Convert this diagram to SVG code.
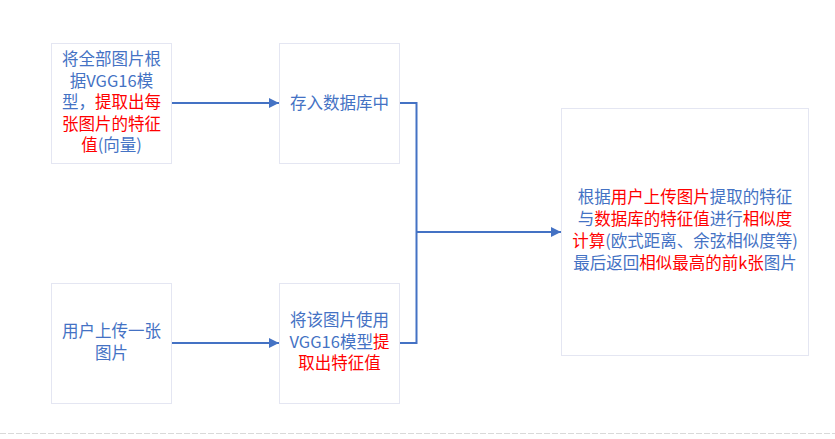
<svg xmlns="http://www.w3.org/2000/svg" width="835" height="439" viewBox="0 0 835 439">
  <style>
    .box { fill: #ffffff; stroke: #e4e6f2; stroke-width: 1; }
    .t { font-family: "Microsoft YaHei", "Noto Sans CJK SC", "Liberation Sans", sans-serif; font-size: 16.5px; fill: #4472c4; text-anchor: middle; }
    .r { fill: #ff0000; }
    .wire { fill: none; stroke: #4472c4; stroke-width: 2; }
  </style>
  <defs>
    <marker id="arrow" viewBox="0 0 10 10" refX="10" refY="5" markerWidth="5.5" markerHeight="5" orient="auto" markerUnits="strokeWidth">
      <path d="M0,0 L10,5 L0,10 z" fill="#4472c4"/>
    </marker>
  </defs>

  <rect width="835" height="439" fill="#ffffff"/>

  <!-- page break -->
  <line x1="0" y1="433.5" x2="835" y2="433.5" stroke="#d9d9d9" stroke-width="1" stroke-dasharray="6,2"/>

  <g id="connectors">
    <path class="wire" d="M172,103 H279" marker-end="url(#arrow)"/>
    <path class="wire" d="M172,343 H279" marker-end="url(#arrow)"/>
    <path class="wire" d="M399,103 H416.5 V343 H399"/>
    <path class="wire" d="M416.5,232 H561" marker-end="url(#arrow)"/>
  </g>

  <g id="extract-all">
    <rect class="box" x="51.5" y="43.5" width="120" height="120"/>
    <text class="t" x="111.5" y="65">将全部图片根</text>
    <text class="t" x="111.5" y="87">据VGG16模</text>
    <text class="t" x="111.5" y="108">型，<tspan class="r">提取出每</tspan></text>
    <text class="t" x="111.5" y="130"><tspan class="r">张图片的特征</tspan></text>
    <text class="t" x="111.5" y="151"><tspan class="r">值</tspan>(向量)</text>
  </g>

  <g id="store-db">
    <rect class="box" x="279.5" y="43.5" width="120" height="120"/>
    <text class="t" x="339.5" y="109">存入数据库中</text>
  </g>

  <g id="upload">
    <rect class="box" x="51.5" y="283.5" width="120" height="120"/>
    <text class="t" x="111.5" y="337">用户上传一张</text>
    <text class="t" x="111.5" y="359">图片</text>
  </g>

  <g id="extract-one">
    <rect class="box" x="279.5" y="283.5" width="120" height="120"/>
    <text class="t" x="339.5" y="326">将该图片使用</text>
    <text class="t" x="339.5" y="347.5">VGG16模型<tspan class="r">提</tspan></text>
    <text class="t" x="339.5" y="369"><tspan class="r">取出特征值</tspan></text>
  </g>

  <g id="similarity">
    <rect class="box" x="561.5" y="108.5" width="247" height="247"/>
    <text class="t" x="685" y="203">根据<tspan class="r">用户上传图片</tspan>提取的特征</text>
    <text class="t" x="685" y="224.5">与<tspan class="r">数据库的特征值</tspan>进行<tspan class="r">相似度</tspan></text>
    <text class="t" x="685" y="246.5"><tspan class="r">计算</tspan>(欧式距离、余弦相似度等)</text>
    <text class="t" x="685" y="269">最后返回<tspan class="r">相似最高的前k张</tspan>图片</text>
  </g>
</svg>
